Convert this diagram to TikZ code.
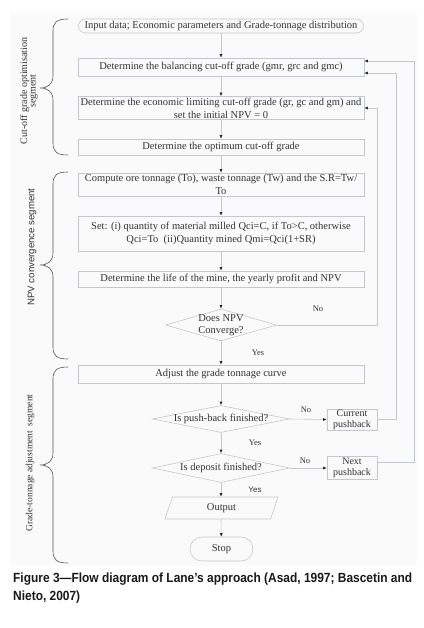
\documentclass[tikz,border=0pt]{standalone}
\usepackage{fontspec}
\usepackage{graphicx}
\setmainfont{Liberation Serif}
\newfontfamily\capfont{Liberation Sans}
\newfontfamily\sansf{Liberation Sans}
\usetikzlibrary{arrows.meta,shapes.geometric}
\definecolor{linec}{HTML}{C4C8CC}
\definecolor{txt}{HTML}{333333}
\definecolor{panel}{HTML}{FAFAFA}
\definecolor{brc}{HTML}{555555}
\newcommand\sidebrace[3]{\draw[brace] (68,#1) .. controls (57,#1) and (53,#1+3) .. (53,#1+12) -- (53,#3-12) .. controls (53,#3-4) and (48,#3) .. (40,#3) .. controls (48,#3) and (53,#3+4) .. (53,#3+12) -- (53,#2-12) .. controls (53,#2-3) and (57,#2) .. (68,#2);}
\begin{document}
\begin{tikzpicture}[x=1pt,y=-1pt,
 box/.style={draw=linec, line width=0.6pt, minimum width=286pt, align=center, inner sep=1pt, text=txt, font=\fontsize{10.5}{13}\selectfont},
 smallbox/.style={box, minimum width=50pt, inner sep=0.5pt, font=\fontsize{10}{11}\selectfont},
 arr/.style={draw=linec, line width=0.6pt, -{Latex[length=3.5pt,width=3pt,color=black!85]}},
 dec/.style={diamond, draw=linec, line width=0.6pt, inner sep=0pt},
 dtext/.style={align=center, text=txt, font=\fontsize{10.5}{12}\selectfont},
 lab/.style={text=txt, font=\fontsize{8.5}{10}\selectfont},
 brace/.style={draw=brc, line width=0.6pt},
 side/.style={rotate=90, align=center, text=txt, font=\fontsize{10}{8.5}\selectfont}]
\useasboundingbox (0,0) rectangle (423,628);
\fill[white] (0,0) rectangle (423,628);
\fill[panel] (10,13) rectangle (417,566);

\node[box, rounded corners=7pt, minimum width=285pt, minimum height=14pt] (in) at (221,26) {Input data; Economic parameters and Grade-tonnage distribution};
\node[box, minimum height=18pt] (bal) at (221,67) {Determine the balancing cut-off grade (gmr, grc and gmc)};
\node[box, minimum height=23pt] (econ) at (221,108) {Determine the economic limiting cut-off grade (gr, gc and gm) and\\set the initial NPV = 0};
\node[box, minimum height=16pt] (opt) at (221,147) {Determine the optimum cut-off grade};
\node[box, minimum height=23pt] (comp) at (221,184.5) {Compute ore tonnage (To), waste tonnage (Tw) and the S.R=Tw/\\To};
\node[box, minimum height=35pt] (set) at (221,233.5) {Set: (i) quantity of material milled Qci=C, if To>C, otherwise\\Qci=To~~(ii)Quantity mined Qmi=Qci(1+SR)};
\node[box, minimum height=16pt] (life) at (221,279) {Determine the life of the mine, the yearly profit and NPV};
\node[dec, minimum width=111pt, minimum height=32pt] (d1) at (221,325) {};
\node[dtext] (d1t) at (d1) {Does NPV\\Converge?};
\node[box, minimum height=18pt] (adj) at (221,374) {Adjust the grade tonnage curve};
\node[dec, minimum width=137pt, minimum height=27pt] (d2) at (221,419) {};
\node[dtext] (d2t) at (d2) {Is push-back finished?};
\node[smallbox, minimum height=19pt] (cur) at (352,419.5) {Current\\pushback};
\node[dec, minimum width=137pt, minimum height=29pt] (d3) at (221,468) {};
\node[dtext] (d3t) at (d3) {Is deposit finished?};
\node[smallbox, minimum height=23pt] (next) at (352,467.5) {Next\\pushback};
\node[trapezium, trapezium left angle=51, trapezium right angle=129, trapezium stretches body, draw=linec, line width=0.6pt, minimum width=113pt, minimum height=22pt, inner sep=0pt, text=txt, font=\fontsize{10.5}{12}\selectfont] (out) at (221.5,508) {Output};
\node[box, rounded corners=12pt, minimum width=63pt, minimum height=24pt] (stop) at (221.5,549) {Stop};

\draw[arr] (in) -- (bal);
\draw[arr] (bal) -- (econ);
\draw[arr] (econ) -- (opt);
\draw[arr] (opt) -- (comp);
\draw[arr] (comp) -- (set);
\draw[arr] (set) -- (life);
\draw[arr] (life) -- (d1);
\draw[arr] (d1) -- (adj);
\draw[arr] (adj) -- (d2);
\draw[arr] (d2) -- (d3);
\draw[arr] (d3) -- (out.north -| d3);
\draw[arr] (out.south -| d3) -- (stop);
\draw[arr] (d2.east) -- (cur.west);
\draw[arr] (d3.east) -- (d3.east -| next.west);

\coordinate (r1) at (377,0);
\coordinate (r2) at (396,0);
\coordinate (r3) at (414,0);
\coordinate (b1) at ([yshift=-6pt]bal.east);
\coordinate (b2) at ([yshift=6pt]bal.east);
\coordinate (n1) at ([yshift=5pt]next.east);
\draw[arr] (d1.east) -- (d1.east -| r1) -- (econ.east -| r1) -- (econ.east);
\draw[arr] (cur.east) -- (cur.east -| r2) -- (b1 -| r2) -- (b1);
\draw[arr] (n1) -- (n1 -| r3) -- (b2 -| r3) -- (b2);

\node[lab] (no1) at (318,309) {No};
\node[lab] (yes1) at (258,353) {Yes};
\node[lab] (no2) at (306,410) {No};
\node[lab] (yes2) at (255,443) {Yes};
\node[lab] (no3) at (305,461) {No};
\node[lab, font=\sansf\fontsize{8}{10}\selectfont] (yes3) at (255,490) {Yes};

\sidebrace{19}{155}{88}
\sidebrace{172}{359}{265}
\sidebrace{367}{563}{465}
\node[side] (s1) at (29,91) {Cut-off grade optimisation\\segment};
\node[side, font=\sansf\fontsize{9.6}{10}\selectfont] (s2) at (32,247) {NPV convergence segment};
\node[side, font=\fontsize{9.5}{8.5}\selectfont] (s3) at (30,463) {Grade-tonnage adjustment~~segment};

\node[anchor=west, font=\capfont\bfseries\fontsize{13.3}{18}\selectfont, text=black!90, inner sep=0pt] (cap) at (13,588) {\resizebox{399pt}{\height}{\begin{tabular}{@{}l@{}}Figure 3—Flow diagram of Lane’s approach (Asad, 1997; Bascetin and\\Nieto, 2007)\end{tabular}}};
\end{tikzpicture}
\end{document}
